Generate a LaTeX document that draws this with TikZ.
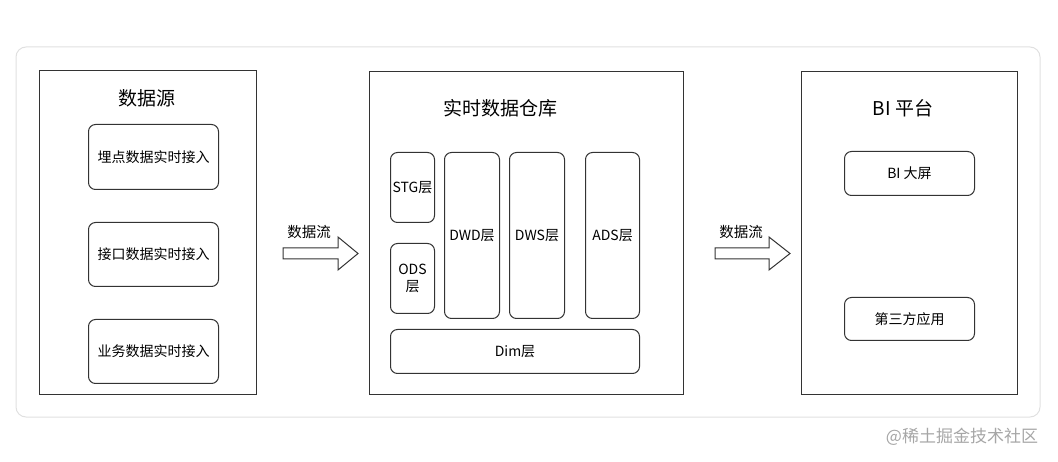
\documentclass[tikz,border=0pt]{standalone}
\usepackage{fontspec}
\setmainfont{Noto Sans CJK SC}
\usepackage{tikz}
\usetikzlibrary{arrows.meta}

\begin{document}
\begin{tikzpicture}[x=1pt, y=-1pt,
	panel/.style={rectangle, draw=black!80, line width=1.1pt, anchor=north west, inner sep=0pt},
	layer/.style={rectangle, draw=black!80, line width=1pt, rounded corners=7pt, anchor=north west, inner sep=0pt, align=center, font=\fontsize{14}{17}\selectfont},
	title/.style={font=\fontsize{19}{23}\selectfont},
	flowlabel/.style={font=\fontsize{14.5}{17}\selectfont},
	flow/.style={draw=black!80, line width=1pt, fill=white}]

\useasboundingbox (0,0) rectangle (1058,462);

% Frame
\draw[black!12, line width=1pt, rounded corners=10pt] (16,47) rectangle (1040,417);

% Data sources
\node[panel, minimum width=217pt, minimum height=324pt] (S) at (39,70) {};
\node[title] (ST) at (147,98) {数据源};
\node[layer, minimum width=130pt, minimum height=65pt] (S1) at (88,124) {埋点数据实时接入};
\node[layer, minimum width=130pt, minimum height=64pt] (S2) at (88,222) {接口数据实时接入};
\node[layer, minimum width=130pt, minimum height=64pt] (S3) at (88,319) {业务数据实时接入};

% Real-time warehouse
\node[panel, minimum width=314pt, minimum height=323pt] (W) at (369,71) {};
\node[title] (WT) at (500,108) {实时数据仓库};
\node[layer, minimum width=44pt, minimum height=70pt] (STG) at (390,152) {STG层};
\node[layer, minimum width=44pt, minimum height=70pt] (ODS) at (390,243) {ODS\\层};
\node[layer, minimum width=55pt, minimum height=166pt] (DWD) at (444,152) {DWD层};
\node[layer, minimum width=55pt, minimum height=166pt] (DWS) at (509,152) {DWS层};
\node[layer, minimum width=54pt, minimum height=166pt] (ADS) at (585,152) {ADS层};
\node[layer, minimum width=249pt, minimum height=44pt] (Dim) at (390,329) {Dim层};

% BI platform
\node[panel, minimum width=216pt, minimum height=323pt] (B) at (801,71) {};
\node[title] (BT) at (903,108) {BI 平台};
\node[layer, minimum width=130pt, minimum height=44pt] (B1) at (844,151) {BI 大屏};
\node[layer, minimum width=130pt, minimum height=43pt] (B2) at (844,297) {第三方应用};

% Flows
\coordinate (F1) at (283,253.5);
\coordinate (F2) at (715,253.5);
\draw[flow] (F1) ++(0,-5.5) -- ++(55,0) -- ++(0,-11) -- ++(20,16.5) -- ++(-20,16.5) -- ++(0,-11) -- ++(-55,0) -- cycle;
\draw[flow] (F2) ++(0,-5.5) -- ++(54,0) -- ++(0,-11) -- ++(21,16.5) -- ++(-21,16.5) -- ++(0,-11) -- ++(-54,0) -- cycle;
\node[flowlabel] (L1) at (309,232) {数据流};
\node[flowlabel] (L2) at (741,232) {数据流};

% Watermark
\node[font=\fontsize{17}{20}\selectfont, text=black!35] (WM) at (962,437) {@稀土掘金技术社区};
\end{tikzpicture}
\end{document}
